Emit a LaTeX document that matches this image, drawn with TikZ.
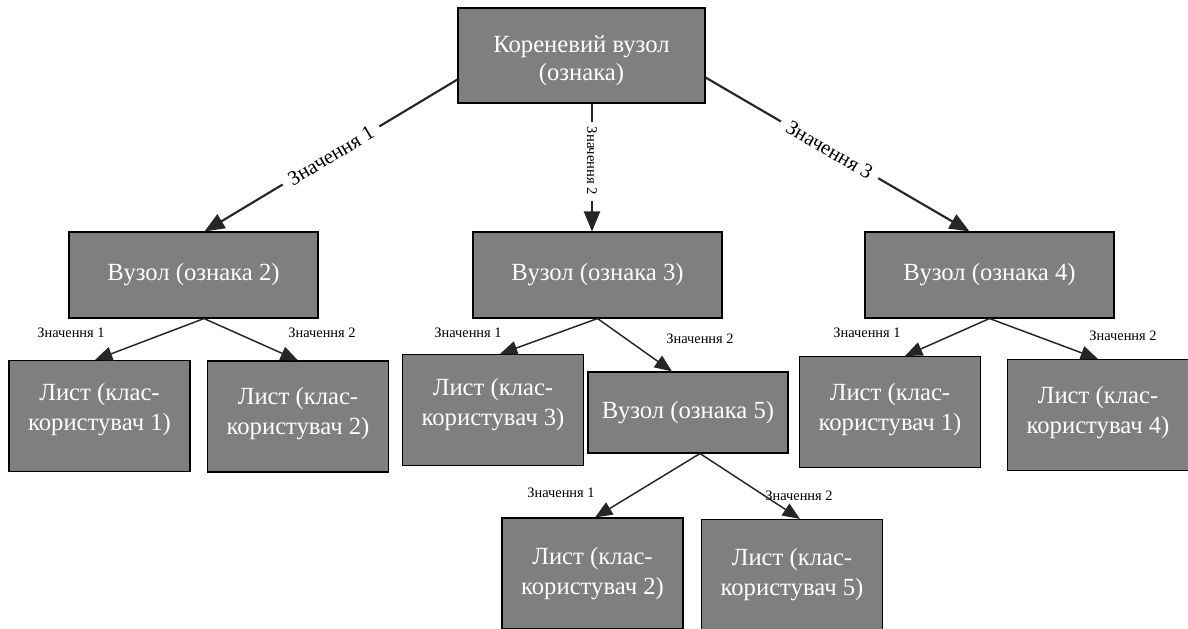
\documentclass[tikz,border=0pt]{standalone}
\usepackage{fontspec}
\setmainfont{Liberation Serif}
\usetikzlibrary{arrows.meta,calc}
\definecolor{boxgray}{HTML}{7F7F7F}
\definecolor{edgecol}{HTML}{262626}
\newcommand{\upby}[1]{\rule[-#1]{0pt}{0pt}}
\begin{document}
\begin{tikzpicture}[x=0.75pt,y=-0.75pt,
  box/.style={draw=black,fill=boxgray,text=white,align=center,inner sep=0pt,line width=0.8pt,
    font=\fontsize{18.5}{22.5}\selectfont},
  rootbox/.style={box,minimum width=185.25pt,minimum height=71.25pt,font=\fontsize{18.5}{21}\selectfont},
  inner/.style={box,minimum width=186.75pt,minimum height=64.5pt},
  leaf/.style={box,minimum width=135.75pt,minimum height=83.25pt},
  bigedge/.style={draw=edgecol,line width=1.6pt,-{Triangle[length=15pt,width=12pt]}},
  smalledge/.style={draw=edgecol,line width=1.1pt,-{Triangle[length=13pt,width=10.5pt]}},
  biglbl/.style={fill=white,inner sep=6pt,font=\fontsize{15.5}{18}\selectfont},
  midlbl/.style={fill=white,inner sep=4pt,font=\fontsize{11}{13}\selectfont},
  smalllbl/.style={inner sep=1pt,font=\fontsize{10.8}{13}\selectfont}
]
\useasboundingbox (0,0) rectangle (1188,628);
\fill[white] (0,0) rectangle (1188,628);

% nodes
\node[rootbox] (root) at (581.5,55.5) {\rule{0pt}{21pt}Кореневий вузол\\(ознака)};
\node[inner] (n2) at (193.5,275) {Вузол (ознака 2)};
\node[inner] (n3) at (597.5,275) {Вузол (ознака 3)};
\node[inner] (n4) at (989.5,275) {Вузол (ознака 4)};
\node[leaf] (l1) at (99.5,416) {Лист (клас-\\користувач 1)\upby{13pt}};
\node[leaf] (l2) at (298,416.5) {Лист (клас-\\користувач 2)\upby{9pt}};
\node[leaf] (l3) at (493,410) {Лист (клас-\\користувач 3)\upby{12pt}};
\node[box,minimum width=150pt,minimum height=60.75pt] (n5) at (688,412.5) {Вузол (ознака 5)};
\node[leaf] (l1b) at (890,412) {Лист (клас-\\користувач 1)\upby{7pt}};
\node[leaf] (l4) at (1098,415) {Лист (клас-\\користувач 4)\upby{7pt}};
\node[leaf] (l2b) at (592.5,573.5) {Лист (клас-\\користувач 2)};
\node[leaf] (l5) at (792,575) {Лист (клас-\\користувач 5)};

% root edges
\draw[bigedge] ($(root.west)+(0,24)$) -- node[biglbl,sloped,pos=0.5]{Значення 1} ($(n2.north)+(11,0)$);
\draw[bigedge] ($(root.south)+(10.5,0)$) -- node[midlbl,rotate=-90,pos=0.45]{Значення 2} ($(n3.north)+(-5.5,0)$);
\draw[bigedge] ($(root.east)+(0,22)$) -- node[biglbl,sloped,pos=0.47]{Значення 3} ($(n4.north)+(-20,0)$);

% child edges
\draw[smalledge] ($(n2.south)+(10.5,0)$) -- ($(l1.north)+(-4.5,0)$);
\draw[smalledge] ($(n2.south)+(10.5,0)$) -- (l2.north);
\draw[smalledge] (n3.south) -- ($(l3.north)+(7,0)$);
\draw[smalledge] (n3.south) -- ($(n5.north)+(-16,0)$);
\draw[smalledge] (n4.south) -- ($(l1b.north)+(15,0)$);
\draw[smalledge] (n4.south) -- (l4.north);
\draw[smalledge] ($(n5.south)+(12,0)$) -- ($(l2b.north)+(2.5,0)$);
\draw[smalledge] ($(n5.south)+(12,0)$) -- ($(l5.north)+(8,0)$);

% small labels
\node[smalllbl] (s1) at (71,333) {Значення 1};
\node[smalllbl] (s2) at (322,333) {Значення 2};
\node[smalllbl] (s3) at (468,333) {Значення 1};
\node[smalllbl] (s4) at (700,339) {Значення 2};
\node[smalllbl] (s5) at (867,333) {Значення 1};
\node[smalllbl] (s6) at (1123,336) {Значення 2};
\node[smalllbl] (s7) at (561,493) {Значення 1};
\node[smalllbl] (s8) at (799,496) {Значення 2};
\end{tikzpicture}
\end{document}
